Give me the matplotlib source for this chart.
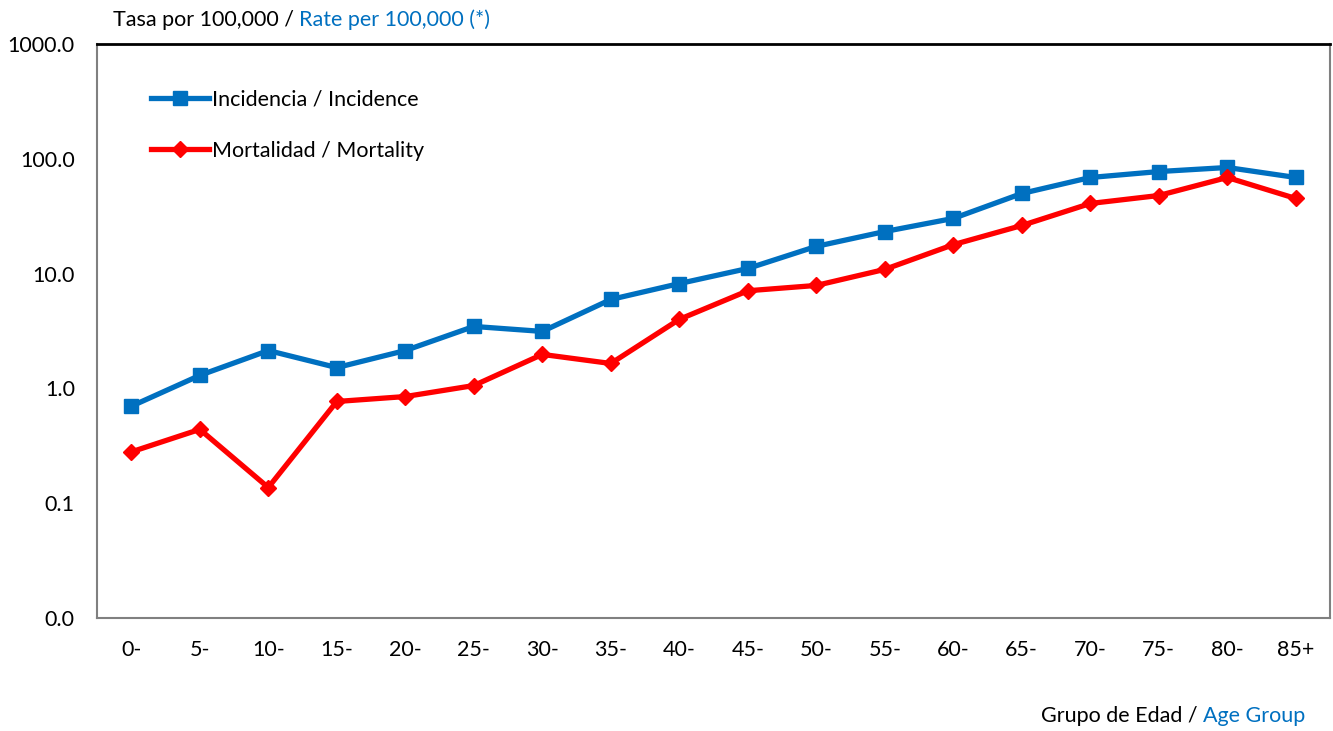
import matplotlib.pyplot as plt
from matplotlib.ticker import FuncFormatter, FixedLocator, NullLocator

plt.rcParams['font.family'] = ['Lato', 'DejaVu Sans']

# Age groups and rates per 100,000 (log scale)
age_groups = ['0-', '5-', '10-', '15-', '20-', '25-', '30-', '35-', '40-', '45-',
              '50-', '55-', '60-', '65-', '70-', '75-', '80-', '85+']
incidence = [0.70, 1.30, 2.14, 1.52, 2.14, 3.47, 3.14, 5.96, 8.2, 11.1,
             17.3, 23.3, 30.3, 50.0, 68.9, 77.6, 84.2, 68.9]
mortality = [0.28, 0.44, 0.137, 0.77, 0.85, 1.06, 1.98, 1.65, 4.0, 7.1,
             7.9, 10.9, 17.9, 26.3, 40.9, 48.0, 68.9, 45.2]

blue = '#0070C0'
red = '#FF0000'
fs = 15.5

fig = plt.figure(figsize=(13.33, 7.31), dpi=100)
ax = fig.add_axes([0.0728, 0.1546, 0.925, 0.785])

x = range(len(age_groups))
ax.plot(x, incidence, color=blue, lw=3.8, marker='s', markersize=10,
        label='Incidencia / Incidence')
ax.plot(x, mortality, color=red, lw=3.8, marker='D', markersize=8,
        label='Mortalidad / Mortality')

ax.set_yscale('log')
ax.set_ylim(0.01, 1000)
ax.set_xlim(-0.5, len(age_groups) - 0.5)
ax.yaxis.set_major_locator(FixedLocator([0.01, 0.1, 1, 10, 100, 1000]))
ax.yaxis.set_minor_locator(NullLocator())
ax.yaxis.set_major_formatter(FuncFormatter(lambda v, p: f"{v:.1f}"))
ax.set_xticks(list(x))
ax.set_xticklabels(age_groups)
ax.tick_params(axis='both', length=0, labelsize=fs, colors='black')
ax.tick_params(axis='y', pad=16)
ax.tick_params(axis='x', pad=16)

for side in ['left', 'right', 'bottom']:
    ax.spines[side].set_color('#808080')
    ax.spines[side].set_linewidth(1.5)
ax.spines['top'].set_color('black')
ax.spines['top'].set_linewidth(2)

leg = ax.legend(loc='upper left', bbox_to_anchor=(0.028, 0.955), frameon=False,
                fontsize=fs, handlelength=2.7, handletextpad=0.15, labelspacing=1.45)

# bilingual titles, english part in blue, pieces placed side by side
r = fig.canvas.get_renderer()
t1 = fig.text(113 / 1333, 1 - 20 / 731, 'Tasa por 100,000 / ', fontsize=fs,
              ha='left', va='center')
w1 = t1.get_window_extent(r).width / fig.bbox.width
fig.text(113 / 1333 + w1, 1 - 20 / 731, 'Rate per 100,000 (*)', fontsize=fs,
         ha='left', va='center', color=blue)

t2 = fig.text(1305 / 1333, 1 - 716 / 731, 'Age Group', fontsize=fs,
              ha='right', va='center', color=blue)
w2 = t2.get_window_extent(r).width / fig.bbox.width
fig.text(1305 / 1333 - w2, 1 - 716 / 731, 'Grupo de Edad / ', fontsize=fs,
         ha='right', va='center')

fig.savefig('out.png', dpi=100)
